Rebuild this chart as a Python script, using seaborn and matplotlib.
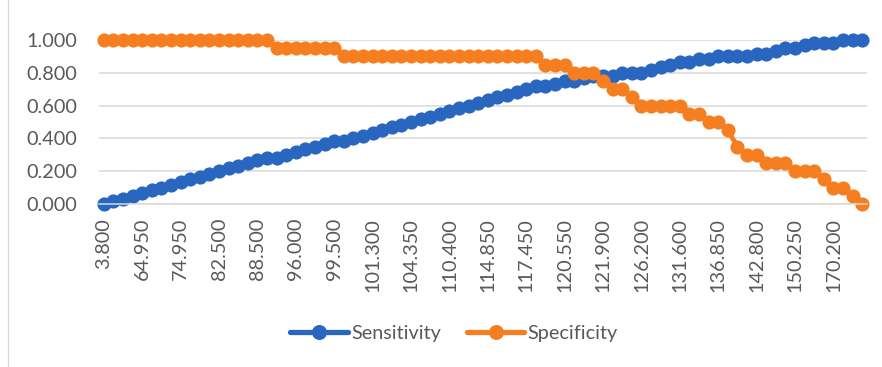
import numpy as np
import pandas as pd
import matplotlib
matplotlib.use("Agg")
import matplotlib.pyplot as plt
import seaborn as sns

# Cut-off values printed on the category axis (every fourth cut-off)
tick_labels = ["3.800", "64.950", "74.950", "82.500", "88.500", "96.000",
               "99.500", "101.300", "104.350", "110.400", "114.850", "117.450",
               "120.550", "121.900", "126.200", "131.600", "136.850", "142.800",
               "150.250", "170.200"]

sensitivity = [
    0.000, 0.017, 0.033, 0.050, 0.067, 0.083, 0.100, 0.117, 0.133, 0.150,
    0.167, 0.183, 0.200, 0.217, 0.233, 0.250, 0.267, 0.283, 0.283, 0.300,
    0.317, 0.333, 0.350, 0.367, 0.383, 0.383, 0.400, 0.417, 0.433, 0.450,
    0.467, 0.483, 0.500, 0.517, 0.533, 0.550, 0.567, 0.583, 0.600, 0.617,
    0.633, 0.650, 0.667, 0.683, 0.700, 0.717, 0.717, 0.733, 0.750, 0.750,
    0.767, 0.783, 0.783, 0.783, 0.800, 0.800, 0.800, 0.817, 0.833, 0.850,
    0.867, 0.867, 0.883, 0.883, 0.900, 0.900, 0.900, 0.900, 0.917, 0.917,
    0.933, 0.950, 0.950, 0.967, 0.983, 0.983, 0.983, 1.000, 1.000, 1.000,
]

specificity = [
    1.00, 1.00, 1.00, 1.00, 1.00, 1.00, 1.00, 1.00, 1.00, 1.00,
    1.00, 1.00, 1.00, 1.00, 1.00, 1.00, 1.00, 1.00, 0.95, 0.95,
    0.95, 0.95, 0.95, 0.95, 0.95, 0.90, 0.90, 0.90, 0.90, 0.90,
    0.90, 0.90, 0.90, 0.90, 0.90, 0.90, 0.90, 0.90, 0.90, 0.90,
    0.90, 0.90, 0.90, 0.90, 0.90, 0.90, 0.85, 0.85, 0.85, 0.80,
    0.80, 0.80, 0.75, 0.70, 0.70, 0.65, 0.60, 0.60, 0.60, 0.60,
    0.60, 0.55, 0.55, 0.50, 0.50, 0.45, 0.35, 0.30, 0.30, 0.25,
    0.25, 0.25, 0.20, 0.20, 0.20, 0.15, 0.10, 0.10, 0.05, 0.00,
]

series_names = ["Sensitivity", "Specificity"]
colors = {"Sensitivity": "#2866BF", "Specificity": "#F57F20"}
label_step = 4

sns.set_theme(style="white")
plt.rcParams["font.family"] = ["Lato", "DejaVu Sans"]

n = len(sensitivity)
df = pd.DataFrame({
    "cutoff": np.tile(np.arange(n), 2),
    "value": sensitivity + specificity,
    "series": np.repeat(series_names, n),
})

fig = plt.figure(figsize=(8.82, 3.67), dpi=100)
ax = fig.add_axes([99 / 882, 1 - 204 / 367, (867 - 99) / 882, (204 - 40) / 367])

sns.lineplot(data=df, x="cutoff", y="value", hue="series", palette=colors,
             hue_order=series_names, marker="o", markersize=10.2,
             markeredgewidth=0, linewidth=3.4, clip_on=False, ax=ax,
             legend=False)

ax.set_xlim(-0.5, n - 0.5)
ax.set_ylim(0, 1.0)
ax.set_yticks(np.arange(0, 1.01, 0.2))
ax.set_yticklabels([f"{v:.3f}" for v in np.arange(0, 1.01, 0.2)])
ax.set_xticks(np.arange(0, n, label_step))
ax.set_xticklabels(tick_labels, rotation=90, va="top", ha="center")
ax.set_xlabel("")
ax.set_ylabel("")

ax.grid(axis="y", color="#D9D9D9", linewidth=1.1)
ax.grid(axis="x", visible=False)
ax.set_axisbelow(True)
for side in ["top", "right", "left"]:
    ax.spines[side].set_visible(False)
ax.spines["bottom"].set_color("#D9D9D9")
ax.spines["bottom"].set_linewidth(1.1)
ax.tick_params(axis="both", length=0, labelsize=14.3, labelcolor="#595959")
ax.tick_params(axis="y", pad=16)
ax.tick_params(axis="x", pad=10)

handles = [plt.Line2D([], [], color=colors[s], marker="o", markersize=10.8,
                      markeredgewidth=0, linewidth=3.8) for s in series_names]
leg = fig.legend(handles, series_names, loc="center",
                 bbox_to_anchor=(454 / 882, 1 - 333 / 367), ncol=2,
                 frameon=False, fontsize=14.3, handlelength=2.9,
                 handletextpad=0.15, columnspacing=1.3)
for t in leg.get_texts():
    t.set_color("#595959")

# chart-area edge on the left
fig.add_artist(plt.Line2D([8 / 882, 8 / 882], [0, 1], color="#D9D9D9",
                          linewidth=1.0, transform=fig.transFigure))

fig.savefig("out.png", dpi=100)
